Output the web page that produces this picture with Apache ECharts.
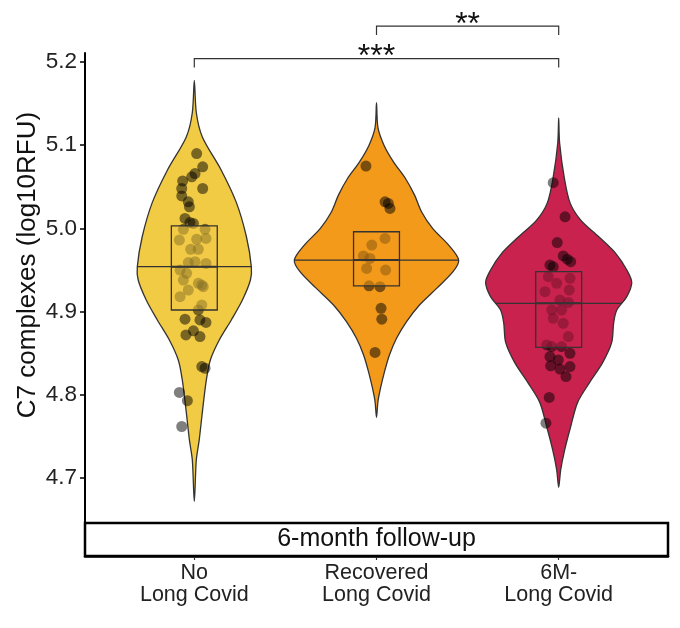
<!DOCTYPE html>
<html>
<head>
<meta charset="utf-8">
<script src="https://cdn.jsdelivr.net/npm/echarts@6/dist/echarts.min.js"></script>
<style>
  html, body { margin: 0; padding: 0; background: #fff; }
  #chart { width: 680px; height: 628px; }
</style>
</head>
<body>
<div id="chart"></div>
<script>
var categories = ['No\nLong Covid', 'Recovered\nLong Covid', '6M-\nLong Covid'];
var groupColors = ['#f2cb45', '#f39a1b', '#c9224e'];
var yTicks = [4.7, 4.8, 4.9, 5.0, 5.1, 5.2];
var stripLabel = '6-month follow-up';
var yTitle = 'C7 complexes (log10RFU)';

// violin outline: [value, half width in category units]
var violinNo = [
    [5.178, 0], [5.139, 0.011], [5.110, 0.044], [5.070, 0.148], [5.031, 0.231],
    [4.990, 0.286], [4.954, 0.313], [4.938, 0.308], [4.914, 0.264], [4.890, 0.203],
    [4.866, 0.137], [4.842, 0.088], [4.818, 0.066], [4.779, 0.044], [4.746, 0.027],
    [4.722, 0.011], [4.672, 0]
];
var violinRecovered = [
    [5.151, 0], [5.121, 0.008], [5.100, 0.041], [5.080, 0.093], [5.060, 0.159],
    [5.040, 0.209], [5.020, 0.247], [5.000, 0.308], [4.980, 0.396], [4.962, 0.451],
    [4.948, 0.420], [4.928, 0.330], [4.908, 0.236], [4.888, 0.165], [4.868, 0.110],
    [4.848, 0.071], [4.828, 0.044], [4.808, 0.022], [4.792, 0.008], [4.773, 0]
];
var violin6M = [
    [5.133, 0], [5.103, 0.005], [5.062, 0.030], [5.031, 0.062], [5.010, 0.121],
    [4.990, 0.220], [4.970, 0.313], [4.950, 0.374], [4.935, 0.401], [4.918, 0.374],
    [4.902, 0.319], [4.887, 0.302], [4.863, 0.291], [4.839, 0.242], [4.815, 0.170],
    [4.791, 0.104], [4.762, 0.066], [4.734, 0.033], [4.710, 0.011], [4.689, 0]
];

// boxes
var boxQ1 = [4.902, 4.931, 4.857];
var boxMedian = [4.954, 4.962, 4.910];
var boxQ3 = [5.003, 4.996, 4.948];

// jittered points [x, value]
var pointsNo = [
    [1.013, 5.090], [1.046, 5.074], [1.004, 5.066], [0.986, 5.062], [0.936, 5.057],
    [0.931, 5.048], [1.046, 5.048], [0.931, 5.039], [0.967, 5.032], [0.973, 5.026],
    [0.949, 5.012], [0.976, 5.007], [0.995, 5.006], [0.940, 4.999], [1.059, 4.999],
    [0.918, 4.986], [1.013, 4.987], [1.064, 4.988], [0.980, 4.975], [1.022, 4.975],
    [0.967, 4.959], [1.004, 4.960], [1.064, 4.958], [0.922, 4.950], [0.958, 4.946],
    [0.940, 4.938], [1.022, 4.934], [1.049, 4.930], [0.922, 4.918], [0.967, 4.926],
    [1.041, 4.932], [1.041, 4.908], [1.022, 4.902], [0.949, 4.891], [1.031, 4.890],
    [1.064, 4.887], [0.995, 4.877], [0.954, 4.872], [1.031, 4.870], [1.041, 4.834],
    [1.059, 4.832], [0.918, 4.803], [0.962, 4.793], [0.931, 4.762]
];
var pointsRecovered = [
    [1.942, 5.075], [2.047, 5.032], [2.065, 5.030], [2.074, 5.024], [2.047, 4.988],
    [1.974, 4.980], [1.928, 4.967], [1.964, 4.964], [1.946, 4.952], [2.050, 4.950],
    [1.959, 4.931], [2.019, 4.930], [2.025, 4.904], [2.029, 4.891], [1.992, 4.851]
];
var points6M = [
    [2.970, 5.055], [3.035, 5.014], [2.992, 4.983], [3.025, 4.967], [3.047, 4.963],
    [3.066, 4.960], [2.952, 4.956], [2.970, 4.954], [2.943, 4.942], [3.062, 4.940],
    [2.925, 4.924], [3.058, 4.926], [3.007, 4.914], [3.053, 4.911], [2.962, 4.902],
    [3.016, 4.902], [2.970, 4.892], [3.053, 4.870], [2.934, 4.860], [2.962, 4.858],
    [3.016, 4.858], [3.062, 4.850], [2.952, 4.846], [2.998, 4.842], [2.956, 4.835],
    [3.062, 4.834], [3.007, 4.831], [3.040, 4.822], [2.948, 4.797], [2.930, 4.766],
    [2.989, 4.934], [3.025, 4.886]
];

// significance brackets
var compFrom = [1, 2];
var compTo = [3, 3];
var compY = [5.204, 5.243];
var compLabel = ['***', '**'];

var violins = [violinNo, violinRecovered, violin6M];
var pointSets = [pointsNo, pointsRecovered, points6M];
var FONT = '"Liberation Sans", Arial, Helvetica, sans-serif';
var BOX_HALF = 0.126;
var INK = '#333';

function halfWidthAt(prof, v) {
    for (var k = 0; k < prof.length - 1; k++) {
        var a = prof[k], b = prof[k + 1];
        if (v <= a[0] && v >= b[0]) {
            var t = (a[0] - v) / (a[0] - b[0]);
            return a[1] + (b[1] - a[1]) * t;
        }
    }
    return 0;
}

function renderViolin(params, api) {
    var i = params.dataIndex;
    var prof = violins[i];
    var cx = i + 1;
    var pts = [];
    for (var k = 0; k < prof.length; k++) {
        pts.push(api.coord([cx - prof[k][1], prof[k][0]]));
    }
    for (var k2 = prof.length - 2; k2 >= 1; k2--) {
        pts.push(api.coord([cx + prof[k2][1], prof[k2][0]]));
    }
    return {
        type: 'polygon',
        shape: { points: pts, smooth: 0.3 },
        style: { fill: groupColors[i], stroke: INK, lineWidth: 1.3 }
    };
}

function renderBox(params, api) {
    var i = params.dataIndex;
    var cx = i + 1;
    var tl = api.coord([cx - BOX_HALF, boxQ3[i]]);
    var br = api.coord([cx + BOX_HALF, boxQ1[i]]);
    var hw = halfWidthAt(violins[i], boxMedian[i]);
    var ml = api.coord([cx - hw, boxMedian[i]]);
    var mr = api.coord([cx + hw, boxMedian[i]]);
    var bl = api.coord([cx - BOX_HALF, boxMedian[i]]);
    var brm = api.coord([cx + BOX_HALF, boxMedian[i]]);
    return {
        type: 'group',
        children: [
            {
                type: 'rect',
                shape: { x: tl[0], y: tl[1], width: br[0] - tl[0], height: br[1] - tl[1] },
                style: { fill: echarts.color.modifyAlpha(groupColors[i], 0.55), stroke: INK, lineWidth: 1.3 }
            },
            {
                type: 'line',
                shape: { x1: ml[0], y1: ml[1], x2: mr[0], y2: mr[1] },
                style: { stroke: INK, lineWidth: 1.3 }
            },
            {
                type: 'line',
                shape: { x1: bl[0], y1: bl[1], x2: brm[0], y2: brm[1] },
                style: { stroke: INK, lineWidth: 2 }
            }
        ]
    };
}

function renderBracket(params, api) {
    var i = params.dataIndex;
    var drop = 0.0105;
    var p1 = api.coord([compFrom[i], compY[i] - drop]);
    var p2 = api.coord([compFrom[i], compY[i]]);
    var p3 = api.coord([compTo[i], compY[i]]);
    var p4 = api.coord([compTo[i], compY[i] - drop]);
    var mid = api.coord([(compFrom[i] + compTo[i]) / 2, compY[i]]);
    return {
        type: 'group',
        children: [
            {
                type: 'polyline',
                shape: { points: [p1, p2, p3, p4] },
                style: { stroke: INK, lineWidth: 1.2, fill: null }
            },
            {
                type: 'text',
                x: mid[0], y: mid[1] - 1,
                style: {
                    text: compLabel[i], fill: '#111', font: '32px ' + FONT,
                    align: 'center', verticalAlign: 'middle'
                }
            }
        ]
    };
}

var chart = echarts.init(document.getElementById('chart'));

var series = [
    {
        type: 'custom',
        z: 2,
        renderItem: renderViolin,
        data: categories.map(function (c, i) { return [i + 1, boxMedian[i]]; }),
        silent: true
    }
];
pointSets.forEach(function (pts) {
    series.push({
        type: 'scatter',
        z: 3,
        symbolSize: 11,
        data: pts,
        itemStyle: { color: '#000', opacity: 0.5 },
        silent: true
    });
});
series.push({
    type: 'custom',
    z: 4,
    renderItem: renderBox,
    data: categories.map(function (c, i) { return [i + 1, boxMedian[i]]; }),
    silent: true
});
series.push({
    type: 'custom',
    z: 5,
    clip: false,
    renderItem: renderBracket,
    data: compLabel.map(function (l, i) { return [compFrom[i], compY[i]]; }),
    silent: true
});

chart.setOption({
    animation: false,
    backgroundColor: '#fff',
    textStyle: { fontFamily: FONT },
    grid: { left: 85, right: 12, top: 53, bottom: 72 },
    xAxis: {
        type: 'value',
        min: 0.4,
        max: 3.6,
        splitLine: { show: false },
        axisLine: { show: true, lineStyle: { color: '#000', width: 2.5 } },
        axisTick: { show: true, customValues: [1, 2, 3], length: 4, lineStyle: { color: '#333', width: 1.2 } },
        axisLabel: {
            customValues: [1, 2, 3],
            formatter: function (v) { return categories[Math.round(v) - 1]; },
            fontSize: 21.5, lineHeight: 22, color: '#222', margin: 6
        }
    },
    yAxis: {
        type: 'value',
        min: 4.6064,
        max: 5.2108,
        splitLine: { show: false },
        axisLine: { show: true, lineStyle: { color: '#000', width: 2 } },
        axisTick: { show: true, customValues: yTicks, length: 5, lineStyle: { color: '#000', width: 1.5 } },
        axisLabel: {
            customValues: yTicks,
            formatter: function (v) { return v.toFixed(1); },
            fontSize: 22.5, color: '#222', margin: 8
        }
    },
    graphic: [
        {
            type: 'rect',
            z: 100,
            shape: { x: 85, y: 523, width: 583, height: 33 },
            style: { fill: '#fff', stroke: '#000', lineWidth: 2.5 }
        },
        {
            type: 'text',
            z: 101,
            x: 376.5, y: 539,
            style: { text: stripLabel, font: '25px ' + FONT, fill: '#111', align: 'center', verticalAlign: 'middle' }
        },
        {
            type: 'text',
            z: 101,
            x: 28, y: 265,
            rotation: Math.PI / 2,
            style: { text: yTitle, font: '26px ' + FONT, fill: '#111', align: 'center', verticalAlign: 'middle' }
        }
    ],
    series: series
});
</script>
</body>
</html>
